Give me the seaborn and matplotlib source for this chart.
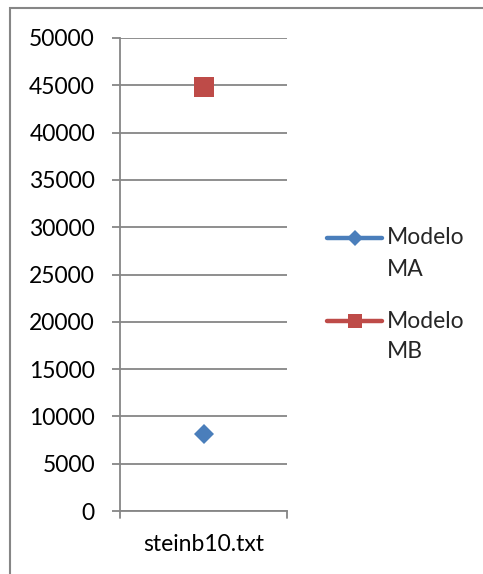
import matplotlib
matplotlib.use("Agg")
import matplotlib.pyplot as plt
from matplotlib.lines import Line2D
from matplotlib.patches import Rectangle
import seaborn as sns
import pandas as pd

categories = ["steinb10.txt"]
series_names = ["Modelo MA", "Modelo MB"]
legend_labels = ["Modelo\nMA", "Modelo\nMB"]
modelo_ma = [8100]
modelo_mb = [44800]
y_ticks = list(range(0, 50001, 5000))

colors = ["#4A7EBB", "#BE4B48"]
markers = ["D", "s"]

df = pd.DataFrame({
    "cat": categories * 2,
    "value": modelo_ma + modelo_mb,
    "model": [series_names[0]] * len(categories) + [series_names[1]] * len(categories),
})

sns.set_style("white")
plt.rcParams["font.family"] = ["Lato", "DejaVu Sans"]

W, H = 483, 574
fig = plt.figure(figsize=(W / 100, H / 100), dpi=100)
ax = fig.add_axes([120 / W, 1 - 511 / H, (287 - 120) / W, (511 - 38) / H])

sns.lineplot(data=df, x="cat", y="value", hue="model", style="model",
             palette=dict(zip(series_names, colors)),
             markers=dict(zip(series_names, markers)), dashes=False,
             markersize=14, markeredgewidth=0, legend=False, ax=ax)
for line in ax.get_lines():
    if line.get_marker() == "D":
        line.set_markersize(10.5)

ax.set_xlim(-0.5, 0.5)
ax.set_ylim(0, 50000)
ax.set_yticks(y_ticks)
ax.set_yticklabels([str(v) for v in y_ticks])
ax.set_xticks([0])
ax.set_xticklabels(categories)
ax.set_xlabel("")
ax.set_ylabel("")

ax.yaxis.grid(True, color="#868686", linewidth=1.3)
ax.set_axisbelow(True)
for s in ["top", "right"]:
    ax.spines[s].set_visible(False)
for s in ["left", "bottom"]:
    ax.spines[s].set_color("#868686")
    ax.spines[s].set_linewidth(1.3)

ax.tick_params(axis="y", which="both", left=True, length=6, width=1.3, color="#868686",
               labelsize=16.5, pad=12, labelcolor="black")
ax.tick_params(axis="x", which="both", bottom=False, labelsize=16.5, pad=13, labelcolor="black")
for xb in [-0.5, 0.5]:
    ax.plot([xb, xb], [0, -0.015], transform=ax.get_xaxis_transform(), color="#868686",
            linewidth=1.3, clip_on=False)

# legend drawn manually (Excel style: handle aligned with first text line)
leg_rows = [238, 321]
leg_markers = [("D", 8), ("s", 10)]
for (mk, ms), col, lab, yy in zip(leg_markers, colors, legend_labels, leg_rows):
    yf = 1 - yy / H
    fig.add_artist(Line2D([327 / W, 382 / W], [yf, yf], transform=fig.transFigure,
                          color=col, linewidth=3.2, solid_capstyle="round"))
    fig.add_artist(Line2D([354.5 / W], [yf], transform=fig.transFigure, color=col,
                          marker=mk, markersize=ms, markeredgewidth=0, linestyle="none"))
    first, second = lab.split("\n")
    fig.text(387 / W, yf, first, fontsize=16.5, va="center", ha="left")
    fig.text(387 / W, 1 - (yy + 31) / H, second, fontsize=16.5, va="center", ha="left")

fig.patches.append(Rectangle((10 / W, -0.2), 2, 1.2 - 8 / H, transform=fig.transFigure,
                             fill=False, edgecolor="#868686", linewidth=1.5, clip_on=False))

fig.savefig("out.png", dpi=100)
